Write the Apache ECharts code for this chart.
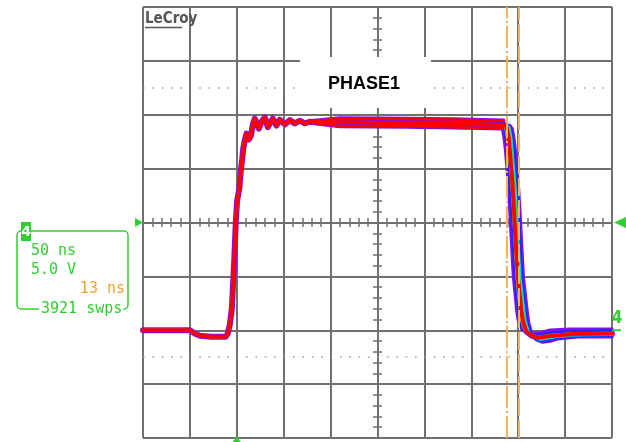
<!DOCTYPE html>
<html><head><meta charset="utf-8">
<script src="https://cdn.jsdelivr.net/npm/echarts@6/dist/echarts.min.js"></script>
<style>html,body{margin:0;padding:0;background:#fff}#c{width:626px;height:442px}</style>
</head><body><div id="c"></div>
<script>
// ---- data (time in ns, voltage in V; 50 ns/div, 5 V/div) ----
const baseT = [-100, -50, -44.8, -39.4, -26.7, -11.7, -9.6, -7.5, -5.3, -4.3, -2.7, -1.1, 0.3, 2.7, 4.3, 5.9, 6.9, 8.5, 10.3, 12.8, 14.9, 17.4, 19.2, 23.5, 26.7, 29.9, 33.0, 38.4, 42.3, 45.8, 51.2, 56.5, 61.8, 67.2, 72.5, 77.8, 88.5, 120, 175, 227, 270];
const baseV = [-10.0, -10.0, -10.3, -10.5, -10.6, -10.6, -10.3, -9.5, -8.0, -6.3, -3.5, 0, 2.0, 3.15, 4.8, 6.0, 6.9, 7.6, 8.25, 7.7, 8.0, 9.2, 9.65, 8.7, 9.4, 9.75, 8.85, 9.65, 9.0, 9.55, 9.1, 9.5, 9.2, 9.45, 9.2, 9.35, 9.3, 9.3, 9.2, 9.2, 9.1];

const fallRedT = [285.7, 287.8, 289.9, 291.0, 293.9, 295.8, 297.4, 299.6, 303.3, 304.9, 308.6, 314.5, 320.9, 328.4, 336.9, 358.2, 400];
const fallRedV = [9.05, 8.8, 7.8, 6.7, 3.6, 0.65, -1.95, -5.1, -8.2, -9.1, -10.1, -10.5, -10.7, -10.6, -10.5, -10.35, -10.3];

const fallPurpleEarlyT = [281, 283, 285, 286.5, 289.5, 291.5, 293, 295, 298.5, 300, 304, 310, 317, 325, 334, 356, 400];
const fallPurpleEarlyV = [9.2, 8.9, 7.9, 6.8, 3.7, 0.7, -1.9, -5.0, -8.1, -9.0, -9.9, -10.2, -10.3, -10.2, -10.0, -9.9, -9.9];
const fallPurpleLateT = [291, 293.5, 295.5, 297, 300, 302, 303.5, 305.5, 309.5, 311, 314.5, 320, 326, 334, 342, 364, 400];
const fallPurpleLateV = [9.0, 8.7, 7.7, 6.6, 3.5, 0.6, -2.0, -5.2, -8.3, -9.3, -10.4, -10.9, -11.1, -11.0, -10.8, -10.6, -10.6];
const fallBlueEarlyT = [283, 285, 287, 288, 291, 293, 294.5, 296.5, 300, 301.5, 305.5, 311.5, 318, 326, 335, 357, 400];
const fallBlueEarlyV = [9.15, 8.85, 7.85, 6.75, 3.65, 0.7, -1.9, -5.05, -8.15, -9.05, -10.0, -10.35, -10.5, -10.4, -10.25, -10.1, -10.05];
const fallBlueLateT = [289.5, 292, 294, 295.5, 298.5, 300.5, 302, 304, 308, 309.5, 313, 319, 325, 333, 341, 362, 400];
const fallBlueLateV = [9.0, 8.7, 7.7, 6.6, 3.5, 0.6, -2.0, -5.15, -8.25, -9.2, -10.3, -10.8, -11.0, -10.9, -10.7, -10.5, -10.5];
const fallCyanT = [288, 290.5, 292.5, 293.5, 296.5, 298.5, 300, 302, 306, 307.5, 311, 317, 323.5, 331, 339.5, 360, 400];
const fallCyanV = [9.0, 8.75, 7.75, 6.65, 3.55, 0.6, -2.0, -5.1, -8.2, -9.15, -10.2, -10.6, -10.85, -10.75, -10.6, -10.45, -10.4];
const fallGreenT = [287, 289.5, 291.5, 292.5, 295.5, 297.5, 299, 301, 305, 306.5, 310, 316, 322.5, 330, 338.5, 359, 400];
const fallGreenV = [9.0, 8.75, 7.75, 6.7, 3.6, 0.6, -2.0, -5.1, -8.2, -9.1, -10.15, -10.55, -10.8, -10.7, -10.55, -10.4, -10.35];
const fallYellowT = [284.5, 286.5, 288.5, 290, 293, 295, 296.5, 298.5, 302, 303.5, 307.5, 313.5, 320, 327.5, 336, 357.5, 400];
const fallYellowV = [9.1, 8.8, 7.8, 6.7, 3.6, 0.65, -1.95, -5.1, -8.2, -9.1, -10.1, -10.45, -10.65, -10.55, -10.45, -10.3, -10.25];

// noise envelope of the flat top (upper and lower edge of the red band)
const topUpperT = [80, 110, 180, 230, 284];
const topUpperV = [9.4, 9.65, 9.6, 9.55, 9.45];
const topLowerT = [80, 110, 180, 230, 284];
const topLowerV = [9.25, 8.95, 8.9, 8.85, 8.75];
// noise envelope of the settled low level after the fall
const lowUpperT = [330, 360, 400];
const lowUpperV = [-10.3, -10.1, -10.0];

const cursorTimes = [288, 301];
const dottedLevels = [12.5, -12.5];
const triggerTime = 0;
const triggerLevel = 0;
const groundLevel = -10;
const infoLines = ['50 ns', '5.0 V', '13 ns', '3921 swps'];
const titleText = 'PHASE1';
const logoText = 'LeCroy';

// ---- helpers ----
function pairs(t, v) { return t.map((x, i) => [x, v[i]]); }
function trace(fT, fV) { return pairs(baseT.concat(fT), baseV.concat(fV)); }
const GRID = '#707070';
const GREEN = '#2fd02f';
const ORANGE = '#f2b35a';
const PURPLE = '#8010f0';

function lineSeries(data, color, width) {
  return { type: 'line', data: data, showSymbol: false, symbol: 'none', silent: true,
    lineStyle: { color: color, width: width, join: 'round', cap: 'round' }, animation: false };
}

const tickStyle = { color: GRID, width: 1.5 };
function xAx(pos, split) {
  return { type: 'value', min: -100, max: 400, interval: 50, position: pos, offset: -215.5,
    axisLine: { show: false, onZero: false }, axisLabel: { show: false },
    axisTick: { show: true, length: 4.5, lineStyle: tickStyle },
    minorTick: { show: true, splitNumber: 5, length: 4.5, lineStyle: tickStyle },
    splitLine: { show: split, lineStyle: { color: GRID, width: 2 } }, minorSplitLine: { show: false } };
}
function yAx(pos, split) {
  return { type: 'value', min: -20, max: 20, interval: 5, position: pos, offset: -234.5,
    axisLine: { show: false, onZero: false }, axisLabel: { show: false },
    axisTick: { show: true, length: 4.5, lineStyle: tickStyle },
    minorTick: { show: true, splitNumber: 5, length: 4.5, lineStyle: tickStyle },
    splitLine: { show: split, lineStyle: { color: GRID, width: 2 } }, minorSplitLine: { show: false } };
}

const redData = trace(fallRedT, fallRedV);
const upData = pairs(topUpperT, topUpperV);
const loData = pairs(topLowerT, topLowerV);
const lowUpData = pairs(lowUpperT, lowUpperV);
const chart = echarts.init(document.getElementById('c'), null, { renderer: 'canvas' });
chart.setOption({
  backgroundColor: '#fff',
  animation: false,
  grid: { left: 143, right: 14, top: 7, bottom: 4, containLabel: false },
  xAxis: [xAx('bottom', true), xAx('top', false)],
  yAxis: [yAx('left', true), yAx('right', false)],
  series: [
    Object.assign(lineSeries(redData, PURPLE, 6), {
      markLine: { silent: true, symbol: 'none', label: { show: false },
        lineStyle: { color: '#9a9a9a', width: 1.5, type: [1.5, 7.88] },
        data: dottedLevels.map(v => ({ yAxis: v })) } }),
    lineSeries(upData, PURPLE, 4.5),
    lineSeries(loData, PURPLE, 4.5),
    lineSeries(lowUpData, PURPLE, 4),
    lineSeries(trace(fallPurpleEarlyT, fallPurpleEarlyV), PURPLE, 3.5),
    lineSeries(trace(fallPurpleLateT, fallPurpleLateV), PURPLE, 3.5),
    lineSeries(trace(fallBlueEarlyT, fallBlueEarlyV), '#1a2cff', 3),
    lineSeries(trace(fallBlueLateT, fallBlueLateV), '#1a2cff', 3),
    lineSeries(trace(fallCyanT, fallCyanV), '#00d8e8', 3),
    lineSeries(trace(fallGreenT, fallGreenV), '#30e030', 2.5),
    lineSeries(trace(fallYellowT, fallYellowV), '#f0f000', 2.5),
    lineSeries(upData, '#ff0000', 2.5),
    lineSeries(loData, '#ff0000', 2.5),
    lineSeries(redData, '#ff0000', 4),
    { type: 'line', data: [], z: 10, silent: true,
      markLine: { silent: true, symbol: 'none', label: { show: false }, animation: false,
        data: [
          { xAxis: cursorTimes[0], lineStyle: { color: ORANGE, width: 2, type: [22, 3, 2, 3] } },
          { xAxis: cursorTimes[1], lineStyle: { color: ORANGE, width: 2, type: [18, 4] } }
        ] } }
  ]
});

const px = chart.convertToPixel({ xAxisIndex: 0 }, triggerTime);
const pyTrig = chart.convertToPixel({ yAxisIndex: 0 }, triggerLevel);
const pyGnd = chart.convertToPixel({ yAxisIndex: 0 }, groundLevel);
const monoFont = '15px "DejaVu Sans Mono", monospace';

chart.setOption({
  graphic: [
    // title box
    { type: 'rect', z: 50, shape: { x: 300, y: 57, width: 131, height: 51 }, style: { fill: '#fff' } },
    { type: 'text', z: 51, x: 364, y: 84, style: { text: titleText, fill: '#000', font: 'bold 18px "Liberation Sans", Arial, sans-serif', align: 'center', verticalAlign: 'middle' } },
    // logo
    { type: 'text', z: 51, x: 145, y: 19, style: { text: logoText, fill: '#555', font: 'bold 15px "DejaVu Sans Condensed", "DejaVu Sans", sans-serif', align: 'left', verticalAlign: 'middle' } },
    { type: 'line', z: 51, shape: { x1: 145, y1: 27.5, x2: 182, y2: 27.5 }, style: { stroke: '#555', lineWidth: 1.5 } },
    // info box
    { type: 'rect', z: 50, shape: { x: 17, y: 231, width: 111, height: 78, r: 4 }, style: { fill: 'none', stroke: GREEN, lineWidth: 1.5 } },
    { type: 'rect', z: 51, shape: { x: 21, y: 222, width: 10, height: 19 }, style: { fill: GREEN } },
    { type: 'text', z: 52, x: 26, y: 232, style: { text: '4', fill: '#fff', font: 'bold 14px "DejaVu Sans", sans-serif', align: 'center', verticalAlign: 'middle' } },
    { type: 'text', z: 51, x: 31, y: 251, style: { text: infoLines[0], fill: GREEN, font: monoFont, align: 'left', verticalAlign: 'middle' } },
    { type: 'text', z: 51, x: 31, y: 270, style: { text: infoLines[1], fill: GREEN, font: monoFont, align: 'left', verticalAlign: 'middle' } },
    { type: 'text', z: 51, x: 125, y: 289, style: { text: infoLines[2], fill: '#f0a030', font: monoFont, align: 'right', verticalAlign: 'middle' } },
    { type: 'text', z: 51, x: 39, y: 309, style: { text: infoLines[3], fill: GREEN, font: monoFont, align: 'left', verticalAlign: 'middle', backgroundColor: '#fff', padding: [0, 1, 0, 2] } },
    // trigger level markers
    { type: 'polygon', z: 51, shape: { points: [[135, pyTrig - 4.5], [143, pyTrig], [135, pyTrig + 4.5]] }, style: { fill: GREEN } },
    { type: 'polygon', z: 51, shape: { points: [[626, pyTrig - 5.5], [614, pyTrig], [626, pyTrig + 5.5]] }, style: { fill: GREEN } },
    // trigger time marker
    { type: 'polygon', z: 51, shape: { points: [[px - 4, 442], [px, 436.5], [px + 4, 442]] }, style: { fill: GREEN } },
    // channel ground marker
    { type: 'text', z: 51, x: 617, y: pyGnd - 12, style: { text: '4', fill: GREEN, font: 'bold 17px "DejaVu Sans Condensed", sans-serif', align: 'center', verticalAlign: 'middle' } },
    { type: 'line', z: 51, shape: { x1: 612, y1: pyGnd, x2: 621, y2: pyGnd }, style: { stroke: GREEN, lineWidth: 2 } }
  ]
});
</script></body></html>
